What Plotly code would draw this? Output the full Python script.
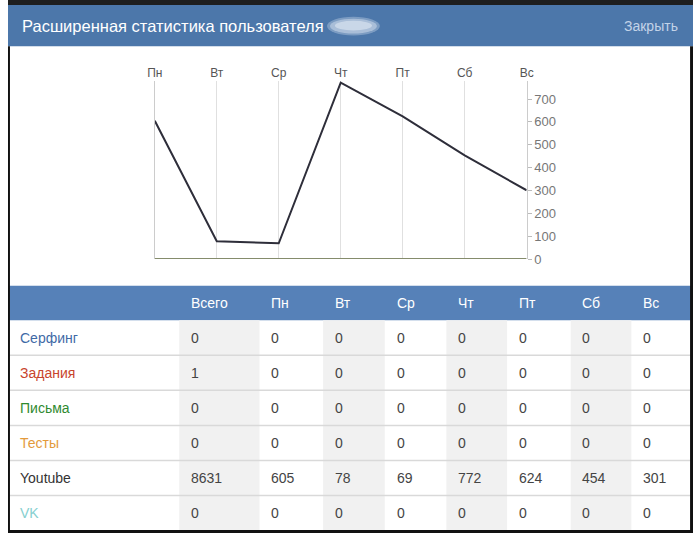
import plotly.graph_objects as go

# ---------------- data ----------------
title_text = "Расширенная статистика пользователя"
close_text = "Закрыть"
days = ["Пн", "Вт", "Ср", "Чт", "Пт", "Сб", "Вс"]
y_ticks = [0, 100, 200, 300, 400, 500, 600, 700]
youtube_by_day = [605, 78, 69, 772, 624, 454, 301]

table_header = ["Всего"] + days
row_names = ["Серфинг", "Задания", "Письма", "Тесты", "Youtube", "VK"]
row_totals = [0, 1, 0, 0, 8631, 0]
row_days = [
    [0, 0, 0, 0, 0, 0, 0],
    [0, 0, 0, 0, 0, 0, 0],
    [0, 0, 0, 0, 0, 0, 0],
    [0, 0, 0, 0, 0, 0, 0],
    youtube_by_day,
    [0, 0, 0, 0, 0, 0, 0],
]
row_colors = ["#3f6aa6", "#c8442c", "#2f8a2f", "#e39a3b", "#333333", "#86cfcf"]

# ---------------- layout helpers ----------------
W, H = 700, 541
FONT = "Liberation Sans, Arial, sans-serif"


def px(x):
    return x / W


def py(y):
    return 1 - y / H


shapes = []
annotations = []


def rect(x0, y0, x1, y1, color, layer="below", opacity=1, rounded=False):
    shapes.append(dict(type="circle" if rounded else "rect", xref="paper", yref="paper",
                       x0=px(x0), x1=px(x1), y0=py(y1), y1=py(y0),
                       fillcolor=color, opacity=opacity,
                       line=dict(width=0), layer=layer))


def hline(x0, x1, y, color, width=1):
    shapes.append(dict(type="line", xref="paper", yref="paper",
                       x0=px(x0), x1=px(x1), y0=py(y), y1=py(y),
                       line=dict(color=color, width=width), layer="below"))


def text(x, y, s, color, size=13, xanchor="left"):
    annotations.append(dict(xref="paper", yref="paper", x=px(x), y=py(y), text=s,
                            showarrow=False, xanchor=xanchor, yanchor="middle",
                            font=dict(family=FONT, size=size, color=color)))


# page frame
rect(0, 0, 700, 6, "#1e1e1e")
rect(0, 5, 700, 47, "#4c77aa")
# blurred username (soft light blob)
rect(326, 17, 380, 36, "#d6e1f0", opacity=0.35, rounded=True)
rect(329, 19, 377, 34, "#dfe8f4", opacity=0.45, rounded=True)
rect(334, 21, 372, 31, "#eaf0f8", opacity=0.5, rounded=True)
text(12, 26, title_text, "#ffffff", size=16.5)
text(687, 26, close_text, "#c3d3e8", size=14, xanchor="right")

# table
col_edges = [0, 175, 257, 322, 385, 448, 510, 575, 637, 698]
header_top, header_bot = 290, 325
row_h = 35.6
table_bot = 540
rect(0, header_top, 700, header_bot, "#5681b8")
for ci in range(len(table_header)):
    if ci % 2 == 0:
        rect(col_edges[ci + 1], header_bot, col_edges[ci + 2], table_bot, "#f1f1f1")
    text(col_edges[ci + 1] + 10, (header_top + header_bot) / 2, table_header[ci],
         "#ffffff", size=14)
for ri, name in enumerate(row_names):
    yc = header_bot + row_h * (ri + 0.5)
    if ri > 0:
        hline(0, 698, header_bot + row_h * ri, "#d9d9d9", 1.5)
    text(10, yc, name, row_colors[ri], size=14)
    vals = [row_totals[ri]] + row_days[ri]
    for ci, v in enumerate(vals):
        text(col_edges[ci + 1] + 10, yc, str(v), "#444444", size=14)

# black border
rect(0, 47, 2, 541, "#111111", layer="above")
rect(697, 47, 700, 541, "#111111", layer="above")
rect(0, 538, 700, 541, "#111111", layer="above")

# ---------------- chart ----------------
fig = go.Figure()
fig.add_trace(go.Scatter(x=list(range(len(days))), y=youtube_by_day, mode="lines",
                         line=dict(color="#2e2e3a", width=2), hoverinfo="skip"))

y_zero_px, y_top_px = 263, 82
y_max = 780
fig.update_layout(
    autosize=True,
    margin=dict(l=0, r=0, t=0, b=0),
    paper_bgcolor="#ffffff", plot_bgcolor="rgba(0,0,0,0)",
    showlegend=False,
    shapes=shapes, annotations=annotations,
    xaxis=dict(domain=[px(150), px(530)], range=[0, 6],
               tickmode="array", tickvals=list(range(len(days))), ticktext=days,
               side="top", showgrid=True, gridcolor="#e0e0e0", gridwidth=1,
               zeroline=False, showline=False, ticks="",
               tickfont=dict(family=FONT, size=12, color="#555555")),
    yaxis=dict(domain=[py(y_zero_px), py(y_top_px)], range=[0, y_max],
               side="right", tickmode="array", tickvals=y_ticks,
               showgrid=False, zeroline=False, showline=True, mirror=True,
               linecolor="#cccccc", linewidth=1,
               ticks="outside", ticklen=4, tickcolor="#bbbbbb",
               tickfont=dict(family=FONT, size=13, color="#777777")),
)
# olive baseline along the x axis (drawn on data coordinates)
fig.add_shape(type="line", xref="x", yref="y", x0=0, x1=6, y0=0, y1=0,
              line=dict(color="#858c6c", width=2), layer="above")

# the div is pinned to the viewport's top-left so the page's body margin does not shift it
fig.write_html(
    "out.html",
    config={"displayModeBar": False},
    default_width="700px; position:fixed; left:0; top:0",
    default_height="541px",
)
